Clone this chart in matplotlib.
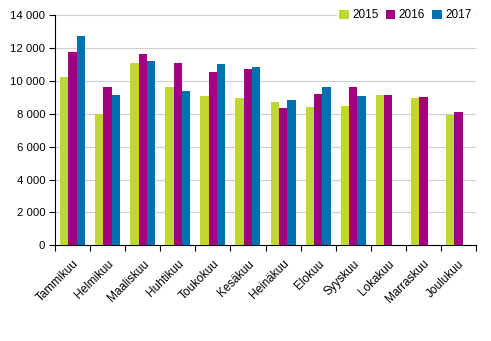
import matplotlib
matplotlib.use("Agg")
import matplotlib.pyplot as plt
import numpy as np
from matplotlib.ticker import FuncFormatter, MultipleLocator

months = ["Tammikuu", "Helmikuu", "Maaliskuu", "Huhtikuu", "Toukokuu", "Kesäkuu",
          "Heinäkuu", "Elokuu", "Syyskuu", "Lokakuu", "Marraskuu", "Joulukuu"]
v2015 = [10250, 8000, 11100, 9630, 9090, 8970, 8720, 8420, 8480, 9150, 8970, 7930]
v2016 = [11770, 9630, 11640, 11100, 10550, 10730, 8360, 9210, 9630, 9150, 9030, 8110]
v2017 = [12740, 9150, 11220, 9390, 11030, 10850, 8840, 9630, 9090, np.nan, np.nan, np.nan]
series = [("2015", v2015, "#c0d72f"), ("2016", v2016, "#a2007f"), ("2017", v2017, "#0071b0")]

plt.rcParams['font.family'] = ['Liberation Sans', 'DejaVu Sans']
fig = plt.figure(figsize=(4.91, 3.41), dpi=100)
ax = fig.add_axes([55/491, 1-245.3/341, (476-55)/491, (245.3-15.3)/341])

x = np.arange(len(months))
w = 0.237
for i, (lab, vals, col) in enumerate(series):
    ax.bar(x + (i-1)*w, vals, width=w, color=col, label=lab, zorder=3)

ax.set_xlim(-0.5, len(months)-0.5)
ax.set_ylim(0, 14000)
ax.yaxis.set_major_locator(MultipleLocator(2000))
ax.yaxis.set_major_formatter(FuncFormatter(lambda v, p: f"{int(v):,}".replace(",", " ")))
ax.grid(axis='y', color='#cfcfcf', linewidth=0.8, zorder=0)
for s in ['top', 'right']:
    ax.spines[s].set_visible(False)
ax.spines['left'].set_linewidth(0.8)
ax.spines['bottom'].set_linewidth(0.8)
ax.set_xticks(x)
ax.set_xticklabels(months, rotation=45, ha='right', rotation_mode='anchor', fontsize=8.5)
ax.tick_params(axis='x', length=0, pad=9)
ax.set_xticks(np.arange(-0.5, len(months)), minor=True)
ax.tick_params(axis='x', which='minor', length=4, width=0.8)
ax.tick_params(axis='y', length=4, width=0.8, labelsize=8.2, pad=3)

leg = ax.legend(loc='center right', bbox_to_anchor=(0.995, 1.0), ncol=3, frameon=True,
                fontsize=8.5, handlelength=0.8, handleheight=0.8, handletextpad=0.3,
                columnspacing=0.6, borderpad=0.2, borderaxespad=0)
leg.get_frame().set_edgecolor('white')
leg.get_frame().set_facecolor('white')
leg.get_frame().set_alpha(1)
leg.set_zorder(5)

fig.savefig("out.png", dpi=100)
